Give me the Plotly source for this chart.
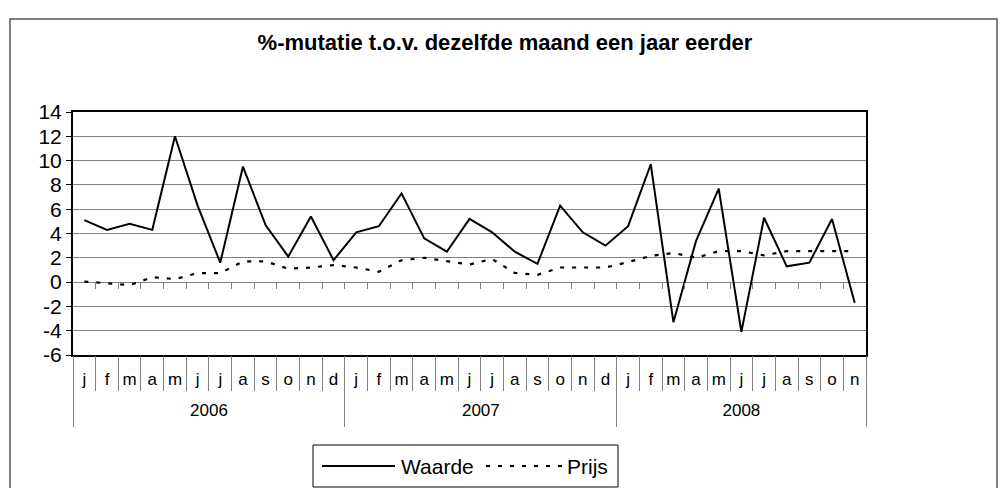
import plotly.graph_objects as go

# ---- data ----
years = ["2006"] * 12 + ["2007"] * 12 + ["2008"] * 11
months = (["j", "f", "m", "a", "m", "j", "j", "a", "s", "o", "n", "d"] * 2
          + ["j", "f", "m", "a", "m", "j", "j", "a", "s", "o", "n"])
waarde = [5.1, 4.3, 4.8, 4.3, 12.0, 6.3, 1.6, 9.5, 4.7, 2.1, 5.4, 1.8,
          4.1, 4.6, 7.3, 3.6, 2.5, 5.2, 4.1, 2.5, 1.5, 6.3, 4.1, 3.0,
          4.6, 9.7, -3.3, 3.4, 7.7, -4.1, 5.3, 1.3, 1.6, 5.2, -1.7]
prijs = [0.05, -0.1, -0.25, 0.4, 0.25, 0.74, 0.74, 1.7, 1.7, 1.1, 1.2, 1.4,
         1.2, 0.85, 1.8, 2.0, 1.7, 1.45, 1.9, 0.75, 0.6, 1.2, 1.2, 1.2,
         1.65, 2.15, 2.4, 2.0, 2.55, 2.55, 2.2, 2.55, 2.55, 2.55, 2.55]
y_ticks = list(range(-6, 15, 2))
y_ticktext = [str(v) for v in y_ticks]
title = "%-mutatie t.o.v. dezelfde maand een jaar eerder"
names = ["Waarde", "Prijs"]

FONT = "Arial, Liberation Sans, sans-serif"
GRAY = "#808080"
W, H = 1004, 488
L, R, T, B = 73, 138, 112, 133
PW, PH = W - L - R, H - T - B


def fx(px):
    return (px - L) / PW


def fy(py):
    return (H - B - py) / PH


n = len(months)
idx = list(range(n))
xr = [-0.5, n - 0.5]

# derived category geometry (from the data)
month_bounds = [i + 0.5 for i in range(n - 1)]
year_list = []
for yv in years:
    if yv not in year_list:
        year_list.append(yv)
year_first = [years.index(yv) for yv in year_list]
year_last = [n - 1 - years[::-1].index(yv) for yv in year_list]
year_centers = [(a + b) / 2 for a, b in zip(year_first, year_last)]
year_bounds = [a - 0.5 for a in year_first] + [n - 0.5]

fig = go.Figure()
fig.add_trace(go.Scatter(x=idx, y=waarde, mode="lines", name=names[0],
                         line=dict(color="black", width=2), showlegend=False))
fig.add_trace(go.Scatter(x=idx, y=prijs, mode="lines", name=names[1],
                         line=dict(color="black", width=2.2, dash="4px,8px"),
                         showlegend=False))
# invisible helper traces so the decorative axes get drawn
for ax in ["x2", "x3", "x4", "x5"]:
    fig.add_trace(go.Scatter(x=idx, y=waarde, xaxis=ax, mode="markers",
                             marker=dict(opacity=0), showlegend=False, hoverinfo="skip"))

ymin, ymax = y_ticks[0], y_ticks[-1]
zero_pos = (0 - ymin) / (ymax - ymin)

common = dict(range=xr, showgrid=False, zeroline=False, showline=False)

fig.update_layout(
    width=W, height=H, autosize=False,
    margin=dict(l=L, r=R, t=T, b=B, pad=0, autoexpand=False),
    paper_bgcolor="white", plot_bgcolor="white",
    font=dict(family=FONT, color="black"),
    title=dict(text="<b>" + title + "</b>", x=505 / W, xanchor="center",
               y=1 - 42 / H, yanchor="middle", font=dict(size=22, family=FONT)),
    # month labels + plot frame
    xaxis=dict(range=xr, tickmode="array", tickvals=idx, ticktext=months, ticks="",
               showgrid=False, zeroline=False, showline=True, linecolor="black",
               linewidth=2, mirror=True, tickfont=dict(size=17), ticklabelstandoff=8),
    # small ticks on the zero line
    xaxis2=dict(overlaying="x", anchor="free", position=zero_pos, tickmode="array",
                tickvals=month_bounds, ticks="outside", ticklen=6, tickcolor=GRAY,
                tickwidth=1, showticklabels=False, **common),
    # month separators under the plot
    xaxis3=dict(overlaying="x", anchor="y", side="bottom", tickmode="array",
                tickvals=month_bounds, ticks="outside", ticklen=35, tickcolor=GRAY,
                tickwidth=1, showticklabels=False, **common),
    # year separators + year labels
    xaxis4=dict(overlaying="x", anchor="y", side="bottom", tickmode="array",
                tickvals=year_bounds, ticks="outside", ticklen=71, tickcolor=GRAY,
                tickwidth=1, showticklabels=False, **common),
    xaxis5=dict(overlaying="x", anchor="y", side="bottom", tickmode="array",
                tickvals=year_centers, ticktext=year_list, ticks="",
                tickfont=dict(size=17), ticklabelstandoff=43, **common),
    yaxis=dict(range=[ymin, ymax], tickmode="array", tickvals=y_ticks, ticktext=y_ticktext,
               showgrid=True, gridcolor=GRAY,
               gridwidth=1, zeroline=False, showline=True, linecolor="black", linewidth=2,
               mirror=True, ticks="outside", ticklen=5, tickcolor="black",
               tickfont=dict(size=21)),
)

shapes = []
# outer chart border
shapes.append(dict(type="rect", xref="paper", yref="paper", x0=fx(10), x1=fx(997),
                   y0=fy(490), y1=fy(19), line=dict(color="#555555", width=1.5),
                   layer="below"))
# legend box
shapes.append(dict(type="rect", xref="paper", yref="paper", x0=fx(313), x1=fx(618),
                   y0=fy(487), y1=fy(445), line=dict(color="black", width=1)))
shapes.append(dict(type="line", xref="paper", yref="paper", x0=fx(322), x1=fx(395),
                   y0=fy(466), y1=fy(466), line=dict(color="black", width=2)))
shapes.append(dict(type="line", xref="paper", yref="paper", x0=fx(486), x1=fx(566),
                   y0=fy(466), y1=fy(466), line=dict(color="black", width=2.2, dash="4px,8px")))
fig.update_layout(shapes=shapes)

fig.add_annotation(text=names[0], xref="paper", yref="paper", x=fx(399), y=fy(466),
                   xanchor="left", yanchor="middle", showarrow=False,
                   font=dict(size=21, family=FONT))
fig.add_annotation(text=names[1], xref="paper", yref="paper", x=fx(565), y=fy(466),
                   xanchor="left", yanchor="middle", showarrow=False,
                   font=dict(size=21, family=FONT))

fig.write_html("out.html", config={"displayModeBar": False},
               post_script="document.body.style.margin='0';")
